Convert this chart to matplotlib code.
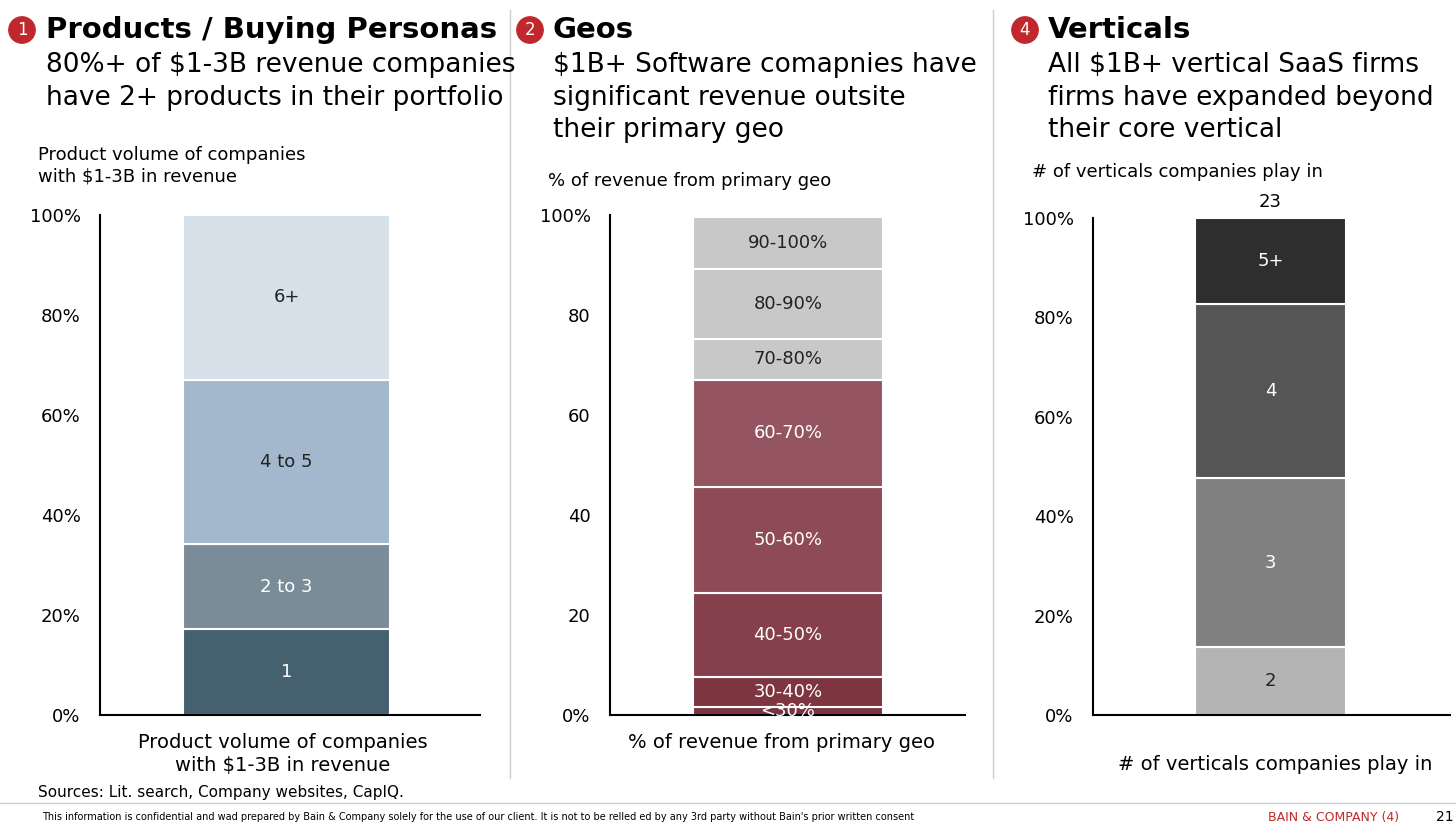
import matplotlib.pyplot as plt
from matplotlib.patches import Circle

W, H = 1456, 825

# panel 1
p1_labels = ['1', '2 to 3', '4 to 5', '6+']
p1_vals = [17.2, 17.0, 32.8, 33.0]
p1_cols = ['#45606f', '#7b8c99', '#a3b8cc', '#d5e0e8']
p1_txt = ['white', 'white', '#222222', '#222222']
p1_ticks = ['0%', '20%', '40%', '60%', '80%', '100%']

# panel 2
p2_labels = ['<30%', '30-40%', '40-50%', '50-60%', '60-70%', '70-80%', '80-90%', '90-100%']
p2_vals = [1.6, 6.0, 16.8, 21.2, 21.4, 8.2, 14.0, 10.4]
p2_cols = ['#7a3340', '#7d3640', '#85404c', '#8e4a55', '#955560', '#c8c8c8', '#c8c8c8', '#c8c8c8']
p2_txt = ['white'] * 5 + ['#222222'] * 3
p2_ticks = ['0%', '20', '40', '60', '80', '100%']

# panel 3
p3_labels = ['2', '3', '4', '5+']
p3_vals = [13.6, 34.0, 35.0, 17.4]
p3_cols = ['#b4b4b4', '#808080', '#555555', '#2e2e2e']
p3_txt = ['#222222', 'white', 'white', 'white']
p3_ticks = ['0%', '20%', '40%', '60%', '80%', '100%']

fig = plt.figure(figsize=(W / 100, H / 100), dpi=100)
fig.patch.set_facecolor('white')


def px_axes(x0, x1, y0, y1):
    return fig.add_axes([x0 / W, 1 - y1 / H, (x1 - x0) / W, (y1 - y0) / H])


def stack(ax, vals, cols, labels, txtc, ticks, bx, bw):
    bottom = 0
    for v, c, l, tc in zip(vals, cols, labels, txtc):
        ax.bar(bx, v, bw, bottom=bottom, color=c, edgecolor='white', linewidth=1.5, align='edge')
        ax.text(bx + bw / 2, bottom + v / 2, l, ha='center', va='center', color=tc, fontsize=13)
        bottom += v
    ax.set_ylim(0, 100)
    ax.set_xlim(0, 1)
    ax.set_yticks([0, 20, 40, 60, 80, 100])
    ax.set_yticklabels(ticks, fontsize=13)
    ax.tick_params(axis='y', length=0, pad=14)
    ax.set_xticks([])
    for s in ['top', 'right']:
        ax.spines[s].set_visible(False)
    ax.spines['left'].set_linewidth(1.5)
    ax.spines['bottom'].set_linewidth(1.5)


ax1 = px_axes(100, 480, 215, 715)
stack(ax1, p1_vals, p1_cols, p1_labels, p1_txt, p1_ticks, 83 / 380, 207 / 380)
ax2 = px_axes(610, 965, 215, 715)
stack(ax2, p2_vals, p2_cols, p2_labels, p2_txt, p2_ticks, 83 / 355, 190 / 355)
ax3 = px_axes(1093, 1450, 218, 715)
stack(ax3, p3_vals, p3_cols, p3_labels, p3_txt, p3_ticks, 102 / 357, 151 / 357)
ax3.text((102 + 75) / 357, 101.5, '23', ha='center', va='bottom', fontsize=13)


def T(x, y, s, **kw):
    fig.text(x / W, 1 - y / H, s, **kw)


def badge(x, y, n):
    c = Circle((x / W, 1 - y / H), 13 / W, transform=fig.transFigure, color='#c0282d',
               ellipse=True) if False else None
    fig.text(x / W, 1 - y / H, n, ha='center', va='center', color='white', fontsize=12,
             bbox=dict(boxstyle='circle,pad=0.25', fc='#c0282d', ec='#c0282d'))


badge(22, 30, '1')
T(46, 30, 'Products / Buying Personas', fontsize=21, fontweight='bold', va='center')
T(46, 65, '80%+ of $1-3B revenue companies', fontsize=19, va='center')
T(46, 98, 'have 2+ products in their portfolio', fontsize=19, va='center')
T(38, 155, 'Product volume of companies', fontsize=13, va='center')
T(38, 177, 'with $1-3B in revenue', fontsize=13, va='center')
T(283, 742, 'Product volume of companies', fontsize=14, va='center', ha='center')
T(283, 766, 'with $1-3B in revenue', fontsize=14, va='center', ha='center')

badge(530, 30, '2')
T(553, 30, 'Geos', fontsize=21, fontweight='bold', va='center')
T(553, 65, '$1B+ Software comapnies have', fontsize=19, va='center')
T(553, 98, 'significant revenue outsite', fontsize=19, va='center')
T(553, 130, 'their primary geo', fontsize=19, va='center')
T(548, 181, '% of revenue from primary geo', fontsize=13, va='center')
T(782, 743, '% of revenue from primary geo', fontsize=14, va='center', ha='center')

badge(1025, 30, '4')
T(1048, 30, 'Verticals', fontsize=21, fontweight='bold', va='center')
T(1048, 65, 'All $1B+ vertical SaaS firms', fontsize=19, va='center')
T(1048, 98, 'firms have expanded beyond', fontsize=19, va='center')
T(1048, 130, 'their core vertical', fontsize=19, va='center')
T(1032, 172, '# of verticals companies play in', fontsize=13, va='center')
T(1275, 765, '# of verticals companies play in', fontsize=14, va='center', ha='center')

# separators
for x in [510, 993]:
    fig.add_artist(plt.Line2D([x / W, x / W], [1 - 10 / H, 1 - 778 / H], color='#cccccc', lw=1))
fig.add_artist(plt.Line2D([0, 1], [1 - 803 / H, 1 - 803 / H], color='#cccccc', lw=1))

T(38, 792, 'Sources: Lit. search, Company websites, CapIQ.', fontsize=11, va='center')
T(42, 817, "This information is confidential and wad prepared by Bain & Company solely for the use of our client. "
    "It is not to be relled ed by any 3rd party without Bain's prior written consent", fontsize=7, va='center')
T(1268, 817, 'BAIN & COMPANY (4)', fontsize=9, va='center', color='#c0282d')
T(1436, 817, '21', fontsize=10, va='center')

fig.savefig('out.png', dpi=100)
